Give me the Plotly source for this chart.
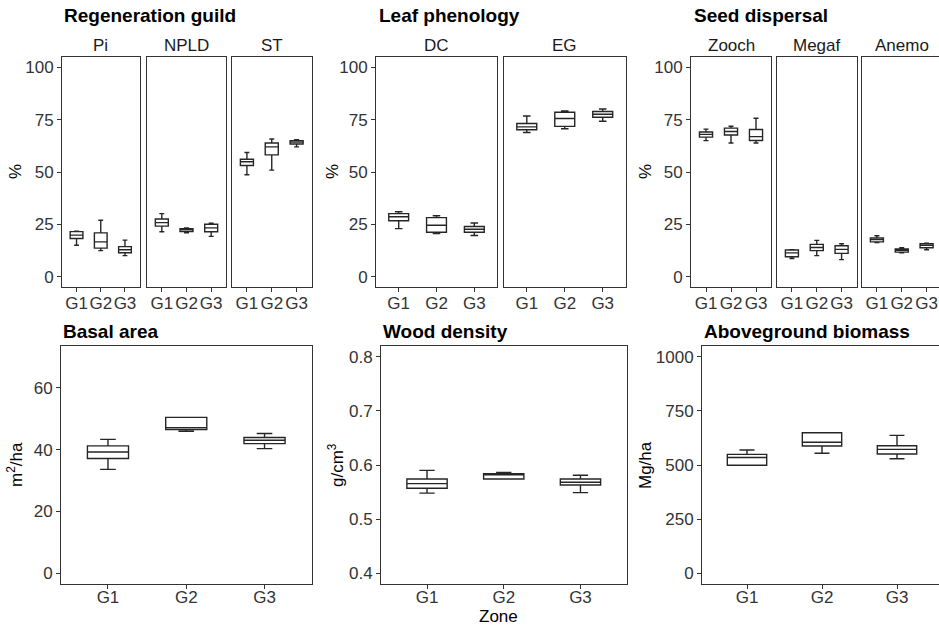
import plotly.graph_objects as go

W, H = 939, 627
zones = ["G1", "G2", "G3"]

# ---- Regeneration guild (%), panels Pi, NPLD, ST ----
regen_panels = ["Pi", "NPLD", "ST"]
regen_lower = [[15.0, 12.4, 10.0], [21.4, 20.9, 19.2], [48.7, 50.9, 62.0]]
regen_q1 = [[18.2, 13.6, 11.4], [24.1, 21.5, 21.4], [53.1, 58.2, 63.4]]
regen_median = [[19.8, 16.6, 12.8], [25.8, 22.3, 23.3], [54.9, 62.0, 64.3]]
regen_q3 = [[21.5, 20.9, 14.3], [27.5, 22.9, 25.0], [56.1, 63.9, 65.0]]
regen_upper = [[21.7, 26.9, 17.4], [30.1, 23.3, 25.5], [59.3, 65.8, 65.4]]

# ---- Leaf phenology (%), panels DC, EG ----
leaf_panels = ["DC", "EG"]
leaf_lower = [[22.9, 20.6, 19.6], [68.9, 70.7, 74.3]]
leaf_q1 = [[26.7, 21.2, 21.2], [70.2, 71.8, 76.2]]
leaf_median = [[28.6, 24.5, 22.6], [71.6, 75.6, 77.6]]
leaf_q3 = [[30.1, 28.2, 23.9], [73.2, 78.6, 78.9]]
leaf_upper = [[31.0, 29.1, 25.6], [76.8, 79.2, 80.1]]

# ---- Seed dispersal (%), panels Zooch, Megaf, Anemo ----
seed_panels = ["Zooch", "Megaf", "Anemo"]
seed_lower = [[65.0, 63.9, 63.9], [8.6, 10.0, 8.1], [16.3, 11.4, 12.8]]
seed_q1 = [[66.7, 67.7, 65.1], [9.5, 12.4, 11.1], [16.6, 11.7, 13.8]]
seed_median = [[68.0, 69.4, 66.9], [11.3, 13.9, 13.0], [17.7, 12.5, 14.9]]
seed_q3 = [[69.1, 71.0, 70.3], [12.7, 15.4, 14.7], [18.5, 13.2, 15.7]]
seed_upper = [[70.5, 71.9, 75.7], [12.8, 17.3, 15.7], [19.5, 13.8, 16.0]]

# ---- Basal area (m2/ha) ----
basal_lower = [33.6, 45.9, 40.3]
basal_q1 = [37.1, 46.5, 41.9]
basal_median = [39.2, 47.1, 43.0]
basal_q3 = [41.2, 50.4, 43.9]
basal_upper = [43.3, 50.4, 45.2]

# ---- Wood density (g/cm3) ----
wood_lower = [0.548, 0.574, 0.549]
wood_q1 = [0.557, 0.574, 0.563]
wood_median = [0.5655, 0.582, 0.568]
wood_q3 = [0.574, 0.584, 0.574]
wood_upper = [0.590, 0.586, 0.581]

# ---- Aboveground biomass (Mg/ha) ----
agb_lower = [499, 554, 529]
agb_q1 = [499, 588, 551]
agb_median = [535, 605, 572]
agb_q3 = [549, 649, 589]
agb_upper = [569, 649, 637]

# ---------------- layout helpers ----------------
FONT = "Liberation Sans, Arial, sans-serif"
LINE = "#333333"
TXT = "#333333"


def px_x(v):
    return v / W


def px_y(v):
    return 1 - v / H


top_y = [px_y(287), px_y(57)]
bot_y = [px_y(584), px_y(346)]

panels = []
stats = []
strip_labels = []

regen_x = [(62, 139.5), (147, 226), (232, 311.5)]
leaf_x = [(376, 497), (504, 625.5)]
seed_x = [(691, 771), (777, 856.5), (862, 939)]

pct_ticks = [0, 25, 50, 75, 100]
for i, (a, b) in enumerate(regen_x):
    panels.append(dict(x=(a, b), y=top_y, yr=[-5, 105], tv=pct_ticks, show=(i == 0), xend=2.6, cut=False, top=True))
    stats.append((regen_lower[i], regen_q1[i], regen_median[i], regen_q3[i], regen_upper[i]))
    strip_labels.append((regen_panels[i], (a + b) / 2))
for i, (a, b) in enumerate(leaf_x):
    panels.append(dict(x=(a, b), y=top_y, yr=[-5, 105], tv=pct_ticks, show=(i == 0), xend=2.6, cut=False, top=True))
    stats.append((leaf_lower[i], leaf_q1[i], leaf_median[i], leaf_q3[i], leaf_upper[i]))
    strip_labels.append((leaf_panels[i], (a + b) / 2))
for i, (a, b) in enumerate(seed_x):
    cut = i == 2
    panels.append(dict(x=(a, b), y=top_y, yr=[-5, 105], tv=pct_ticks, show=(i == 0),
                       xend=2.5 if cut else 2.6, cut=cut, top=True))
    stats.append((seed_lower[i], seed_q1[i], seed_median[i], seed_q3[i], seed_upper[i]))
    strip_labels.append((seed_panels[i], (a + b) / 2 + (1.2 if cut else 0)))

panels.append(dict(x=(61, 311.5), y=bot_y, yr=[-3.5, 73.5], tv=[0, 20, 40, 60], show=True, xend=2.6, cut=False, top=False))
stats.append((basal_lower, basal_q1, basal_median, basal_q3, basal_upper))
panels.append(dict(x=(381, 626.5), y=bot_y, yr=[0.38, 0.82], tv=[0.4, 0.5, 0.6, 0.7, 0.8], show=True, xend=2.6, cut=False, top=False))
stats.append((wood_lower, wood_q1, wood_median, wood_q3, wood_upper))
panels.append(dict(x=(702, 939), y=bot_y, yr=[-50, 1050], tv=[0, 250, 500, 750, 1000], show=True, xend=2.56, cut=True, top=False))
stats.append((agb_lower, agb_q1, agb_median, agb_q3, agb_upper))

fig = go.Figure()
layout = dict(
    width=W, height=H, autosize=False,
    margin=dict(l=0, r=0, t=0, b=0),
    paper_bgcolor="white", plot_bgcolor="white",
    font=dict(family=FONT, size=17, color=TXT),
    showlegend=False, boxgap=0.25,
)

for k, (p, s) in enumerate(zip(panels, stats)):
    n = k + 1
    xa = "x" if n == 1 else f"x{n}"
    ya = "y" if n == 1 else f"y{n}"
    lo, q1, med, q3, up = s
    fig.add_trace(go.Box(
        x=zones, q1=q1, median=med, q3=q3, lowerfence=lo, upperfence=up,
        xaxis=xa, yaxis=ya, boxpoints=False, whiskerwidth=0.38,
        fillcolor="white", line=dict(color="#262626", width=1.4),
        hoverinfo="skip", showlegend=False,
    ))
    xkey = "xaxis" if n == 1 else f"xaxis{n}"
    ykey = "yaxis" if n == 1 else f"yaxis{n}"
    layout[xkey] = dict(
        domain=[px_x(p["x"][0]), px_x(p["x"][1])], anchor=ya,
        type="category", range=[-0.6, p["xend"]],
        showline=True, linecolor=LINE, linewidth=1, mirror=True,
        ticks="outside", ticklen=4, tickcolor=LINE, tickangle=0,
        ticklabelstandoff=-3 if p["top"] else -6,
        tickfont=dict(size=17, color=TXT), showgrid=False, zeroline=False,
    )
    layout[ykey] = dict(
        domain=p["y"], anchor=xa, range=p["yr"],
        tickvals=p["tv"], showticklabels=p["show"],
        ticks="outside" if p["show"] else "", ticklen=4, tickcolor=LINE,
        showline=True, linecolor=LINE, linewidth=1, mirror=not p["cut"],
        tickfont=dict(size=17, color=TXT), showgrid=False, zeroline=False,
    )

annotations = []
for text, x, y in [("Regeneration guild", 62, 15), ("Leaf phenology", 377, 15), ("Seed dispersal", 692, 15),
                   ("Basal area", 61, 331), ("Wood density", 381, 331), ("Aboveground biomass", 702, 331)]:
    annotations.append(dict(text=f"<b>{text}</b>", x=px_x(x), y=px_y(y), xref="paper", yref="paper",
                            xanchor="left", yanchor="middle", showarrow=False,
                            font=dict(size=19, color="black", family=FONT)))
for text, xc in strip_labels:
    annotations.append(dict(text=text, x=px_x(xc), y=px_y(45), xref="paper", yref="paper",
                            xanchor="center", yanchor="middle", showarrow=False,
                            font=dict(size=17, color="#1a1a1a", family=FONT)))
for text, x, y in [("%", 15, 172), ("%", 332, 172), ("%", 645, 172),
                   ("m<sup>2</sup>/ha", 15, 465), ("g/cm<sup>3</sup>", 336, 465), ("Mg/ha", 645, 465)]:
    annotations.append(dict(text=text, x=px_x(x), y=px_y(y), xref="paper", yref="paper",
                            xanchor="center", yanchor="middle", textangle=-90, showarrow=False,
                            font=dict(size=17, color="black", family=FONT)))
annotations.append(dict(text="Zone", x=px_x(498), y=px_y(616), xref="paper", yref="paper",
                        xanchor="center", yanchor="middle", showarrow=False,
                        font=dict(size=17, color="black", family=FONT)))
layout["annotations"] = annotations

fig.update_layout(**layout)
fig.write_html("out.html")
